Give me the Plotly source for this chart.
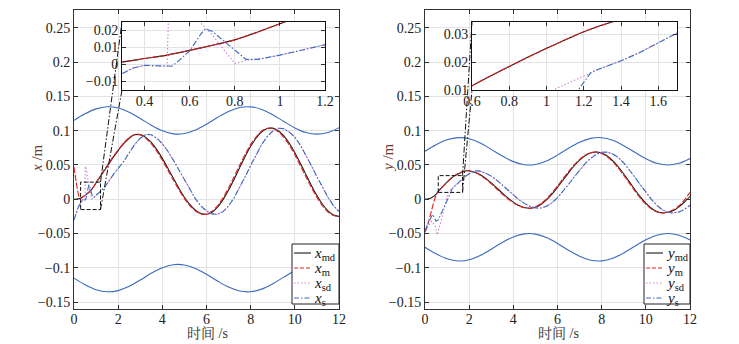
import plotly.graph_objects as go

W, H = 739, 344

# ---------------- left panel (x direction) ----------------
T_B = [0, 0.5, 1, 1.5, 2, 2.5, 3, 3.5, 4, 4.5, 5, 5.5, 6, 6.5, 7, 7.5, 8, 8.5, 9, 9.5, 10, 10.5, 11, 11.5, 12]
X_UP = [0.115, 0.1246, 0.1318, 0.1349, 0.1332, 0.1270, 0.1178, 0.1080, 0.0999, 0.0954, 0.0958, 0.1009, 0.1094,
        0.1193, 0.1281, 0.1338, 0.1348, 0.1310, 0.1232, 0.1135, 0.1041, 0.0974, 0.0950, 0.0975, 0.1043]
X_LO = [-0.115, -0.1246, -0.1318, -0.1349, -0.1332, -0.1270, -0.1178, -0.1080, -0.0999, -0.0954, -0.0958, -0.1009,
        -0.1094, -0.1193, -0.1281, -0.1338, -0.1348, -0.1310, -0.1232, -0.1135, -0.1041, -0.0974, -0.0950, -0.0975,
        -0.1043]
Y_UP = [0.070, 0.0796, 0.0868, 0.0899, 0.0882, 0.0820, 0.0728, 0.0630, 0.0549, 0.0504, 0.0508, 0.0559, 0.0644,
        0.0743, 0.0831, 0.0888, 0.0898, 0.0860, 0.0782, 0.0685, 0.0591, 0.0524, 0.0500, 0.0525, 0.0593]
Y_LO = [-0.070, -0.0796, -0.0868, -0.0899, -0.0882, -0.0820, -0.0728, -0.0630, -0.0549, -0.0504, -0.0508, -0.0559,
        -0.0644, -0.0743, -0.0831, -0.0888, -0.0898, -0.0860, -0.0782, -0.0685, -0.0591, -0.0524, -0.0500, -0.0525,
        -0.0593]

T_Q3 = [3.0, 3.25, 3.5, 3.75, 4.0, 4.25, 4.5, 4.75, 5.0, 5.25, 5.5, 5.75, 6.0, 6.25, 6.5, 6.75, 7.0, 7.25, 7.5,
        7.75, 8.0, 8.25, 8.5, 8.75, 9.0, 9.25, 9.5, 9.75, 10.0, 10.25, 10.5, 10.75, 11.0, 11.25, 11.5, 11.75, 12.0]

T_XMD = [0, 0.15, 0.3, 0.4, 0.5, 0.6, 0.7, 0.8, 0.9, 1.0, 1.25, 1.5, 1.75, 2.0, 2.25, 2.5, 2.75] + T_Q3
X_MD = [0, 0.0004, 0.0015, 0.0035, 0.0055, 0.0083, 0.0113, 0.0145, 0.019, 0.024, 0.036, 0.048, 0.060, 0.071,
        0.081, 0.089, 0.094,
        0.0943, 0.0903, 0.0828, 0.0723, 0.0596, 0.0453, 0.0306, 0.0162, 0.0030, -0.0079, -0.0160, -0.0208, -0.0219,
        -0.0188, -0.0115, -0.0005, 0.0134, 0.0293, 0.0460, 0.0624, 0.0773, 0.0894, 0.0984, 0.1032, 0.1037, 0.1000,
        0.0925, 0.0816, 0.0679, 0.0525, 0.0363, 0.0202, 0.0054, -0.0073, -0.0169, -0.0229, -0.025]

T_XM = [0, 0.05, 0.1, 0.15, 0.2, 0.25, 0.3, 0.4, 0.5, 0.6, 0.7, 0.8, 0.9, 1.0, 1.25, 1.5, 1.75, 2.0, 2.25, 2.5,
        2.75] + T_Q3
X_M = [0.047, 0.036, 0.025, 0.015, 0.007, 0.002, 0.0015, 0.0035, 0.0055, 0.0083, 0.0113, 0.0145, 0.019, 0.024,
       0.037, 0.049, 0.061, 0.072, 0.082, 0.090, 0.0945,
       0.094, 0.089, 0.081, 0.070, 0.057, 0.0425, 0.028, 0.014, 0.001, -0.0095, -0.017, -0.0213, -0.0218, -0.0175,
       -0.0095, 0.002, 0.0165, 0.033, 0.0495, 0.0655, 0.080, 0.091, 0.0995, 0.1035, 0.1033, 0.0985, 0.0905, 0.079,
       0.065, 0.049, 0.033, 0.017, 0.0028, -0.0095, -0.0185, -0.0238, -0.0252]

T_Q35 = T_Q3[2:]
T_XS = [0, 0.1, 0.2, 0.3, 0.35, 0.4, 0.45, 0.52, 0.55, 0.6, 0.65, 0.67, 0.7, 0.75, 0.8, 0.85, 0.9, 1.0, 1.1, 1.2,
        1.4, 1.6, 1.8, 2.0, 2.25, 2.5, 2.75, 3.0, 3.25] + T_Q35
X_S = [-0.030, -0.020, -0.011, -0.0055, -0.002, -0.0005, -0.0008, -0.001, 0.002, 0.008, 0.018, 0.021, 0.0195,
       0.014, 0.008, 0.003, 0.003, 0.0055, 0.0085, 0.0115, 0.018, 0.028, 0.037, 0.045, 0.055, 0.068, 0.080, 0.089,
       0.0945,
       0.094, 0.089, 0.081, 0.070, 0.057, 0.0425, 0.0277, 0.0135, 0.0006, -0.0098, -0.0172, -0.0213, -0.022, -0.018,
       -0.0098, 0.0022, 0.0165, 0.0327, 0.0493, 0.0655, 0.080, 0.0915, 0.0995, 0.1035, 0.103, 0.098, 0.0905, 0.079,
       0.065, 0.049, 0.033, 0.017, 0.003, -0.0095, -0.018]

T_XSD = [0, 0.1, 0.2, 0.3, 0.35, 0.4, 0.45, 0.5, 0.51, 0.55, 0.6, 0.645, 0.7, 0.75, 0.8, 0.85, 0.9] + T_XS[17:]
X_SD = [-0.030, -0.020, -0.011, -0.0055, -0.002, -0.0005, -0.0008, -0.001, 0.048, 0.045, 0.035, 0.025, 0.0175,
        0.009, 0.0005, 0.0025, 0.003] + X_S[17:]

# ---------------- right panel (y direction) ----------------
T_Q2 = [2.0, 2.25, 2.5, 2.75, 3.0, 3.25, 3.5, 3.75, 4.0, 4.25, 4.5, 4.75, 5.0, 5.25, 5.5, 5.75, 6.0, 6.25, 6.5,
        6.75, 7.0, 7.25, 7.5, 7.75, 8.0, 8.25, 8.5, 8.75, 9.0, 9.25, 9.5, 9.75, 10.0, 10.25, 10.5, 10.75, 11.0,
        11.25, 11.5, 11.75, 12.0]
T_YMD = [0, 0.25, 0.5, 0.6, 0.8, 1.0, 1.2, 1.35, 1.5, 1.75, 1.9] + T_Q2
Y_MD = [0, 0.0015, 0.007, 0.0115, 0.0185, 0.025, 0.031, 0.0345, 0.037, 0.0405, 0.0415,
        0.0413, 0.0395, 0.0358, 0.0304, 0.0238, 0.0165, 0.0090, 0.0020, -0.0042, -0.0090, -0.0120, -0.013,
        -0.0116, -0.0075, -0.0010, 0.0075, 0.0174, 0.028, 0.0386, 0.0485, 0.0570, 0.0635, 0.0676, 0.069,
        0.0675, 0.0632, 0.0564, 0.0474, 0.0369, 0.0257, 0.0143, 0.0036, -0.0057, -0.0131, -0.0179, -0.0199,
        -0.019, -0.0165, -0.011, -0.004, 0.004]

T_YM = [0, 0.1, 0.2, 0.3, 0.4, 0.5, 0.6, 0.8, 1.0, 1.2, 1.35, 1.5, 1.75, 1.9] + T_Q2
Y_M = [-0.048, -0.040, -0.028, -0.016, -0.004, 0.006, 0.0115, 0.0185, 0.025, 0.031, 0.0345, 0.0375, 0.041, 0.0418,
       0.0415, 0.0392, 0.0350, 0.0293, 0.0225, 0.0150, 0.0076, 0.0008, -0.0052, -0.0097, -0.0124, -0.0130,
       -0.0110, -0.0062, 0.0005, 0.0093, 0.0193, 0.0300, 0.0405, 0.0500, 0.0582, 0.0643, 0.0680, 0.0689,
       0.0668, 0.0620, 0.0548, 0.0455, 0.0348, 0.0236, 0.0123, 0.0018, -0.0072, -0.0142, -0.0186, -0.0200,
       -0.0186, -0.0152, -0.0095, -0.0010, 0.0100]

T_YS = [0, 0.15, 0.35, 0.5, 0.6, 0.75, 0.95, 1.1, 1.17, 1.24, 1.3, 1.4, 1.5, 1.6, 1.7, 1.85, 2.0, 2.15, 2.3, 2.5,
        2.75, 3.0, 3.25, 3.5, 3.75, 4.0, 4.25, 4.5, 4.75, 5.0, 5.25, 5.5, 5.75, 6.0, 6.25, 6.5, 6.75, 7.0, 7.25,
        7.5, 7.75, 8.0, 8.25, 8.5, 8.75, 9.0, 9.25, 9.5, 9.75, 10.0, 10.25, 10.5, 10.75, 11.0, 11.25, 11.5, 11.75,
        12.0]
Y_S = [-0.046, -0.034, -0.022, -0.032, -0.030, -0.020, -0.007, 0.005, 0.0100, 0.0165, 0.018, 0.0205, 0.0235,
       0.027, 0.0305, 0.034, 0.0375, 0.040, 0.0415, 0.041,
       0.038, 0.0338, 0.0280, 0.0210, 0.0135, 0.0062, -0.0005, -0.006, -0.0102, -0.0125, -0.0128, -0.0102,
       -0.0052, 0.0023, 0.0114, 0.0217, 0.0322, 0.0426, 0.0521, 0.0597, 0.0655, 0.0685, 0.0688, 0.0660, 0.0610,
       0.0530, 0.0435, 0.0325, 0.0212, 0.0100, 0.0000, -0.0088, -0.0152, -0.0190, -0.0200, -0.0185, -0.0148,
       -0.0088]

T_YSD = [0, 0.15, 0.3, 0.45, 0.55, 0.7, 0.9, 1.05, 1.22] + T_YS[10:]
Y_SD = [-0.046, -0.038, -0.032, -0.038, -0.052, -0.035, -0.010, 0.0105, 0.0155] + Y_S[10:]

# ---------------- styling / layout constants ----------------
BLUE = "#3a6bc0"
BLACK = "#1a1a1a"
RED = "#e02020"
PINK = "#d080d0"
FONT = "Liberation Serif, Times New Roman, serif"

DOM_Y = [1 - 309 / H, 1 - 10 / H]
DOM_XL = [74 / W, 339 / W]
DOM_XR = [425 / W, 690 / W]
INS_Y = [1 - 90 / H, 1 - 22 / H]
INS_XL = [122 / W, 325 / W]
INS_XR = [472 / W, 677 / W]

MAIN_X = [0, 12]
MAIN_Y = [-0.16, 0.276]
INL_X = [0.3, 1.2]
INL_Y = [-0.015, 0.025]
INR_X = [0.6, 1.7]
INR_Y = [0.01, 0.0345]

fig = go.Figure()


def add_set(t_md, v_md, t_m, v_m, t_sd, v_sd, t_s, v_s, xa, ya, t_b=None, up=None, lo=None, w=1.1):
    if t_b is not None:
        for b in (up, lo):
            fig.add_trace(go.Scatter(x=t_b, y=b, mode="lines", xaxis=xa, yaxis=ya, showlegend=False,
                                     line=dict(color=BLUE, width=w, shape="spline")))
    fig.add_trace(go.Scatter(x=t_md, y=v_md, mode="lines", xaxis=xa, yaxis=ya, showlegend=False,
                             line=dict(color=BLACK, width=w, shape="spline", smoothing=0.6)))
    fig.add_trace(go.Scatter(x=t_m, y=v_m, mode="lines", xaxis=xa, yaxis=ya, showlegend=False,
                             line=dict(color=RED, width=w, dash="6px,2px", shape="spline", smoothing=0.6)))
    fig.add_trace(go.Scatter(x=t_sd, y=v_sd, mode="lines", xaxis=xa, yaxis=ya, showlegend=False,
                             line=dict(color=PINK, width=w, dash="1.5px,2px")))
    fig.add_trace(go.Scatter(x=t_s, y=v_s, mode="lines", xaxis=xa, yaxis=ya, showlegend=False,
                             line=dict(color=BLUE, width=w, dash="6px,2px,1.5px,2px")))


add_set(T_XMD, X_MD, T_XM, X_M, T_XSD, X_SD, T_XS, X_S, "x", "y", T_B, X_UP, X_LO)
add_set(T_YMD, Y_MD, T_YM, Y_M, T_YSD, Y_SD, T_YS, Y_S, "x2", "y2", T_B, Y_UP, Y_LO)
add_set(T_XMD, X_MD, T_XM, X_M, T_XSD, X_SD, T_XS, X_S, "x3", "y3")
add_set(T_YMD, Y_MD, T_YM, Y_M, T_YSD, Y_SD, T_YS, Y_S, "x4", "y4")

axc = dict(showline=True, linecolor="#333", linewidth=1, mirror="ticks", ticks="inside", ticklen=4,
           tickcolor="#333", showgrid=True, gridcolor="#e3e3e3", gridwidth=1, zeroline=False,
           tickfont=dict(family=FONT, size=14, color="#222"), automargin=False)

fig.update_layout(
    width=W, height=H, margin=dict(l=0, r=0, t=0, b=0), paper_bgcolor="white", plot_bgcolor="white",
    showlegend=False,
    xaxis=dict(domain=DOM_XL, range=MAIN_X, anchor="y", tickvals=[0, 2, 4, 6, 8, 10, 12],
               ticklabelstandoff=-3, **axc),
    yaxis=dict(domain=DOM_Y, range=MAIN_Y, anchor="x",
               tickvals=[-0.15, -0.1, -0.05, 0, 0.05, 0.1, 0.15, 0.2, 0.25], **axc),
    xaxis2=dict(domain=DOM_XR, range=MAIN_X, anchor="y2", tickvals=[0, 2, 4, 6, 8, 10, 12],
                ticklabelstandoff=-3, **axc),
    yaxis2=dict(domain=DOM_Y, range=MAIN_Y, anchor="x2",
                tickvals=[-0.15, -0.1, -0.05, 0, 0.05, 0.1, 0.15, 0.2, 0.25], **axc),
    xaxis3=dict(domain=INS_XL, range=INL_X, anchor="y3", tickvals=[0.4, 0.6, 0.8, 1, 1.2],
                ticklabelstandoff=-2, **axc),
    yaxis3=dict(domain=INS_Y, range=INL_Y, anchor="x3", tickvals=[-0.01, 0, 0.01, 0.02], **axc),
    xaxis4=dict(domain=INS_XR, range=INR_X, anchor="y4", tickvals=[0.6, 0.8, 1, 1.2, 1.4, 1.6],
                ticklabelstandoff=-2, **axc),
    yaxis4=dict(domain=INS_Y, range=INR_Y, anchor="x4", tickvals=[0.01, 0.02, 0.03], **axc),
)
for ax in ("xaxis3", "yaxis3", "xaxis4", "yaxis4"):
    fig.layout[ax].linecolor = "#111"

shapes = []
# inset white backgrounds
for xd in (INS_XL, INS_XR):
    shapes.append(dict(type="rect", xref="paper", yref="paper", x0=xd[0], x1=xd[1], y0=INS_Y[0], y1=INS_Y[1],
                       fillcolor="white", line=dict(width=0), layer="below"))


def to_paper(xv, yv, xdom, xr):
    px = xdom[0] + (xv - xr[0]) / (xr[1] - xr[0]) * (xdom[1] - xdom[0])
    py = DOM_Y[0] + (yv - MAIN_Y[0]) / (MAIN_Y[1] - MAIN_Y[0]) * (DOM_Y[1] - DOM_Y[0])
    return px, py


# zoom rectangles
shapes.append(dict(type="rect", xref="x", yref="y", x0=INL_X[0], x1=INL_X[1], y0=INL_Y[0], y1=INL_Y[1],
                   line=dict(color="#111", width=1, dash="4px,2px")))
shapes.append(dict(type="rect", xref="x2", yref="y2", x0=INR_X[0], x1=INR_X[1], y0=INR_Y[0], y1=INR_Y[1],
                   line=dict(color="#111", width=1, dash="4px,2px")))
# connector lines
for (xdom, xr, ins_x, rx, ry) in ((DOM_XL, MAIN_X, INS_XL, INL_X, INL_Y), (DOM_XR, MAIN_X, INS_XR, INR_X, INR_Y)):
    a = to_paper(rx[1], ry[1], xdom, xr)
    b = to_paper(rx[1], ry[0], xdom, xr)
    shapes.append(dict(type="line", xref="paper", yref="paper", x0=a[0], y0=a[1], x1=ins_x[0], y1=INS_Y[1],
                       line=dict(color="#111", width=1, dash="6px,2px,1.5px,2px")))
    shapes.append(dict(type="line", xref="paper", yref="paper", x0=b[0], y0=b[1], x1=ins_x[0], y1=INS_Y[0],
                       line=dict(color="#111", width=1, dash="6px,2px,1.5px,2px")))

annotations = []
# legends (manual)
LEG_STYLE = [(BLACK, "solid"), (RED, "4px,2px"), (PINK, "1.5px,2px"), (BLUE, "5px,2px,1.5px,2px")]
for sym, (bx0, bx1), (lx0, lx1, tx) in (("x", (292, 339), (294, 311, 312)), ("y", (644, 690), (646, 663, 664))):
    shapes.append(dict(type="rect", xref="paper", yref="paper", x0=bx0 / W, x1=bx1 / W, y0=1 - 304 / H,
                       y1=1 - 244 / H, fillcolor="white", line=dict(color="#222", width=1)))
    for i, sub in enumerate(["md", "m", "sd", "s"]):
        yc = 253 + i * 15
        col, dsh = LEG_STYLE[i]
        shapes.append(dict(type="line", xref="paper", yref="paper", x0=lx0 / W, x1=lx1 / W, y0=1 - yc / H,
                           y1=1 - yc / H, line=dict(color=col, width=1.1, dash=dsh)))
        annotations.append(dict(xref="paper", yref="paper", x=tx / W, y=1 - (yc + 1) / H, xanchor="left",
                                yanchor="middle", showarrow=False, text=f"<i>{sym}</i><sub>{sub}</sub>",
                                font=dict(family=FONT, size=15, color="#111")))

# axis titles
for xc in (207 / W, 558 / W):
    annotations.append(dict(xref="paper", yref="paper", x=xc, y=1 - 333 / H, xanchor="center", yanchor="middle",
                            showarrow=False, text="时间 /s",
                            font=dict(family="Liberation Serif, Noto Serif CJK SC, Noto Sans CJK SC", size=14,
                                      color="#333")))
for xc, sym in ((37 / W, "x"), (388 / W, "y")):
    annotations.append(dict(xref="paper", yref="paper", x=xc, y=1 - 158 / H, xanchor="center", yanchor="middle",
                            showarrow=False, textangle=-90, text=f"<i>{sym}</i> /m",
                            font=dict(family=FONT, size=15, color="#6b3a2a")))

fig.update_layout(shapes=shapes, annotations=annotations)
fig.write_html("out.html", config={"displayModeBar": False},
               post_script="document.body.style.margin='0px';")
